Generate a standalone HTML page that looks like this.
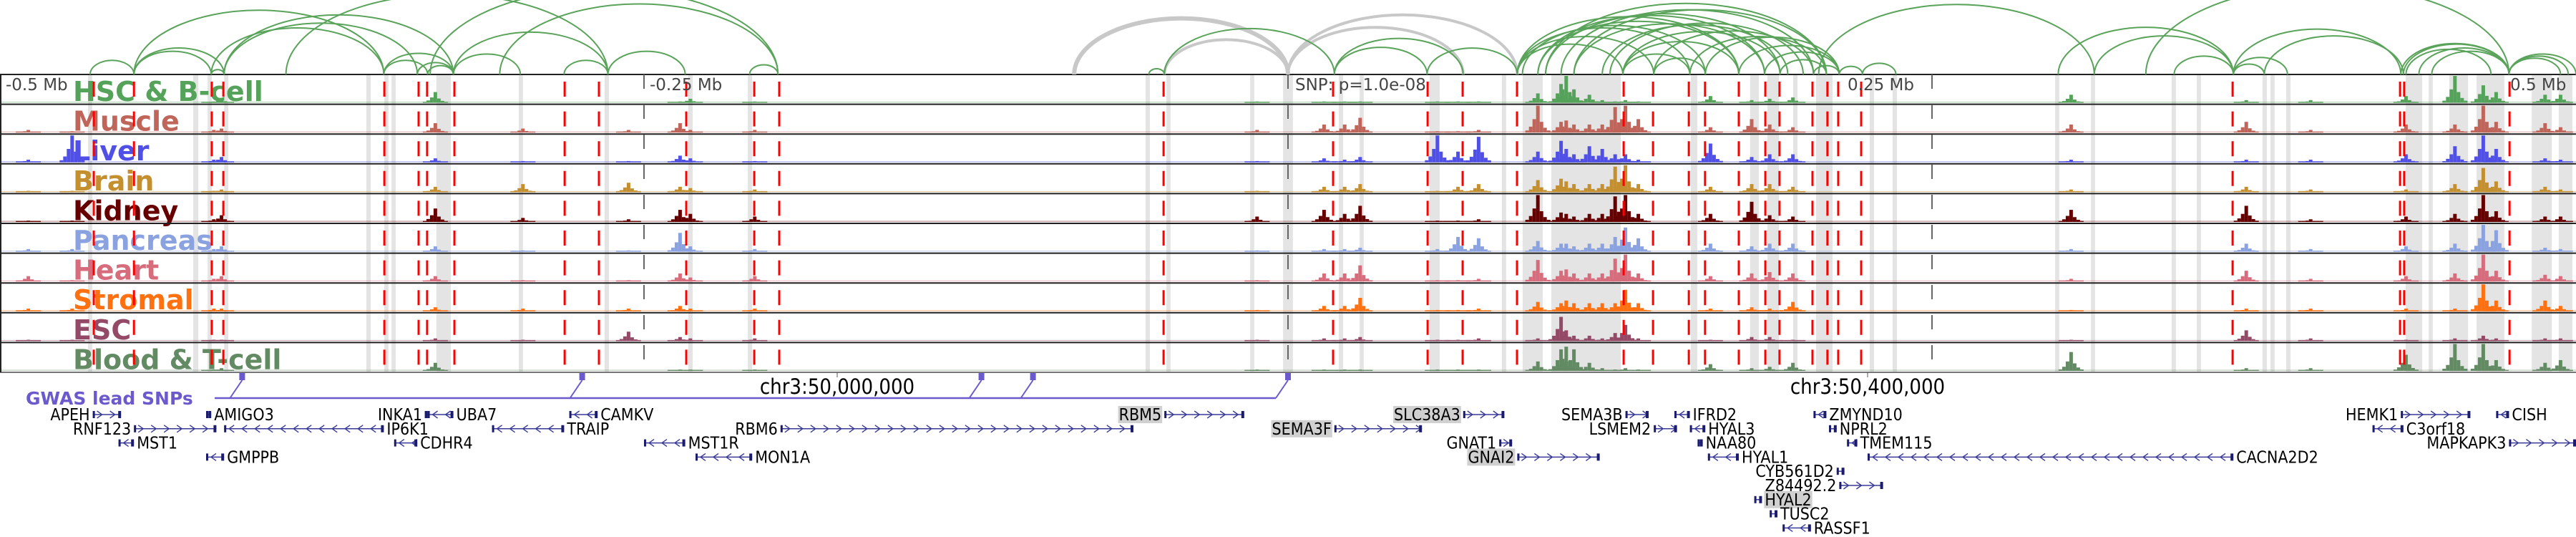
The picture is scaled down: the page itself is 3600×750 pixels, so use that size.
<!DOCTYPE html>
<html><head><meta charset="utf-8"><style>
html,body{margin:0;padding:0;background:#fff;}
svg{display:block;}
text{font-family:"DejaVu Sans","Liberation Sans",sans-serif;}
.g{font-family:"DejaVu Sans Condensed","Liberation Sans Narrow","Liberation Sans",sans-serif;}
</style></head><body>
<svg id="chart" width="3600" height="750" viewBox="0 0 3600 750" xmlns="http://www.w3.org/2000/svg"></svg>
<script>
// ---------- data (kb relative to lead SNP) ----------
const trackNames = ["HSC & B-cell","Muscle","Liver","Brain","Kidney","Pancreas","Heart","Stromal","ESC","Blood & T-cell"];
const trackColors = ["#55a35a","#c0655a","#5050e6","#c48f2e","#660000","#8aa2e0","#d66c7c","#ff7010","#944a66","#628a63"];
const peakPos = [-472,-489,-417,-414,-331,-297,-256,-236,-232,-207,-12,14,22,28,58,66,74,97,106,108,111,117,122,127,131,136,164,180,187,196,304,372,397,434,453,464,469,488,494];
const hscVals = [0,0,.05,.15,.4,0,0,.05,.15,.05,.05,.05,.05,.05,.05,.05,.05,.35,.7,1,.5,.3,.1,.05,.1,.05,.25,.1,.15,.2,.3,.1,.1,.25,1,.65,.4,.3,.3];
const muscleVals = [.05,.1,.1,.15,.35,.15,.1,.35,.1,.1,.1,.3,.3,.55,.05,.05,.1,1,.4,.45,.3,.3,.3,.95,1,.5,.2,.5,.3,.2,.3,.4,.1,.3,.3,1,.4,.35,.2];
const liverVals = [1,.1,.1,.2,.15,.05,.05,.25,.15,.05,.05,.15,.1,.2,1,.4,.95,.4,.8,.5,.3,.6,.5,.3,.3,.1,.7,.2,.3,.3,.1,.1,.1,.3,.6,1,.5,.15,.1];
const brainVals = [.05,.05,.05,.1,.2,.3,.35,.2,.15,.1,.05,.2,.2,.3,.05,.2,.3,.45,.5,.4,.3,.3,.3,.95,1,.3,.2,.3,.3,.2,.1,.2,.1,.1,.3,.9,.4,.2,.1];
const kidneyVals = [.05,.05,.1,.25,.5,.15,.1,.45,.3,.2,.2,.45,.3,.6,.05,.05,.1,1,.35,.3,.2,.3,.3,.95,1,.3,.3,.75,.25,.2,.45,.6,.1,.2,.3,1,.4,.2,.2];
const pancreasVals = [.1,.1,.1,.2,.2,.05,.05,.7,.2,.1,.05,.1,.1,.15,.1,.55,.5,.4,.3,.3,.2,.3,.3,.55,.9,.5,.3,.2,.3,.3,.1,.3,.1,.2,.3,1,.8,.15,.1];
const heartVals = [.05,.2,.1,.2,.2,.05,.05,.3,.15,.2,.05,.3,.3,.6,.05,.05,.1,.8,.4,.45,.3,.3,.3,.85,1,.3,.2,.3,.35,.3,.1,.4,.1,.2,.3,1,.4,.25,.2];
const stromalVals = [.1,.1,.1,.1,.15,.1,.1,.2,.1,.1,.05,.2,.2,.5,.05,.05,.1,.35,.3,.4,.3,.3,.3,.3,.8,.3,.1,.15,.1,.35,.05,.1,.1,.1,.1,1,.4,.4,.2];
const escVals = [.05,.05,.05,.05,.1,.05,.35,.15,.1,.1,.05,.1,.1,.15,.05,.05,.1,.1,.9,.4,.2,.2,.1,.3,.6,.1,.05,.15,.15,.05,.05,.4,.1,.05,.1,.2,.1,.1,.1];
const bloodVals = [0,0,.05,.1,.3,0,0,.05,.05,.05,.05,.05,.05,.05,.05,.05,.05,.35,.8,.9,.8,.3,.1,.05,.1,.05,.25,.1,.15,.3,.7,.1,.1,.6,1,1,.4,.3,.4];
const trackVals = [hscVals,muscleVals,liverVals,brainVals,kidneyVals,pancreasVals,heartVals,stromalVals,escVals,bloodVals];
const redLines = [-463.6,-448,-417.8,-413.3,-350.8,-337.5,-334.2,-323.6,-280.8,-267.5,-233.6,-207.2,-197.5,-48.3,17.5,54.2,67.8,88.9,130.3,141.7,155.6,161.9,175,185.3,190.8,203.6,209.4,213.6,222.5,366.7,431.7,433.3,474.2];
const grayStarts = [-465.8,-425,-419.4,-413,-357.8,-350.8,-348,-330.6,-298.6,-265.3,-232.8,-209.7,-55.3,-47.2,-14.7,-1.9,19.7,27.8,55,83,91.1,102.2,156.4,179.4,186.1,196.1,205,225.8,234.7,297.8,311.7,343,352.8,378.3,381.4,387.5,433.9,442.8,450.8,461.4,482.8,493.3];
const grayEnds   = [-464.2,-423,-417.8,-411.4,-356.1,-349.2,-346.4,-325,-297,-263.6,-231.1,-208,-53.6,-45.6,-13.1,1.9,21.4,29.4,58.9,84.7,98.9,129.2,158.9,182.8,190.6,197.8,211.4,227.5,236.4,299.4,313.3,344.7,354.4,380,383,389.2,440.3,444.4,458.1,472.2,490.6,498.6];
const arcStarts = [-465,-448,-448,-418,-448,-418,-413,-351,-351,-338,-334,-324,-413,-324,-281,-264,-333,-209,-54,-48,18,18,54,89,89,89,91,97,97,100,106,111,130,130,142,156,162,175,185,89,100,130,142,191,204,214,111,122,125,206,223,299,313,344,367,367,367,379,432,433,434,439,444,474,474,474,333,-389,-306];
const arcEnds   = [-448,-418,-413,-413,-351,-351,-338,-334,-324,-324,-324,-298,-324,-264,-264,-234,-198,-198,-48,18,54,68,89,130,142,156,162,175,185,191,204,209,175,191,204,209,214,214,214,175,209,156,162,209,214,223,185,194,200,313,236,367,367,367,379,388,432,433,474,474,467,474,474,500,497,494,474,-264,-198];
const grayArcStarts = [-83,-48,0,0];
const grayArcEnds = [0,0,68,89];
const geneNames = ["APEH","RNF123","MST1","AMIGO3","GMPPB","IP6K1","INKA1","UBA7","CDHR4","CAMKV","TRAIP","MST1R","MON1A","RBM6","RBM5","SEMA3F","SLC38A3","GNAT1","GNAI2","SEMA3B","LSMEM2","IFRD2","HYAL3","NAA80","HYAL1","CYB561D2","Z84492.2","HYAL2","TUSC2","RASSF1","ZMYND10","NPRL2","TMEM115","CACNA2D2","HEMK1","CISH","C3orf18","MAPKAPK3"];
const geneStarts = [-464,-448,-454,-420,-420,-413,-335,-334,-347,-279,-309,-250,-230,-197,-48,18,68,82,89,131,142,150,156,159,163,213,214,181,187,192,204,210,217,225,432,469,421,474];
const geneEnds   = [-453,-416,-448,-418,-413,-351,-334,-324,-338,-268,-281,-234,-208,-60,-17,52,84,87,121,140,151,156,162,161,175,216,231,184,190,203,209,213,221,367,459,474,433,500];
const geneRows   = [0,1,2,0,3,1,0,0,2,0,1,2,3,1,0,1,0,2,3,0,1,0,1,2,3,4,5,6,7,8,0,1,2,3,0,0,1,2];
const geneStrands= ["+","+","-","-","-","-","-","-","-","-","-","-","-","+","+","+","+","+","+","+","+","-","-","-","-","+","+","-","-","-","-","+","-","-","+","-","-","+"];
const geneLabelSide=["L","L","R","R","R","R","L","R","R","R","R","R","R","L","L","L","L","L","L","L","L","R","R","R","R","L","L","R","R","R","R","R","R","R","L","R","R","L"];
const geneHighlight=["RBM5","SEMA3F","SLC38A3","GNAI2","HYAL2"];
const snpPos = [-406,-274,-119,-99,0];
const axisTickKb = [-500,-250,250,500];
const axisTickLabels = ["-0.5 Mb","-0.25 Mb","0.25 Mb","0.5 Mb"];
const chrLabels = ["chr3:50,000,000","chr3:50,400,000"];
const chrLabelKb = [-175,225];

// ---------- scales ----------
const W=3600, TOP=104, TH=41.6, NT=10;
const x = kb => (kb+500)/1000*W;
const svg=document.getElementById('chart');
const NS='http://www.w3.org/2000/svg';
function mk(tag,attrs,parent){const e=document.createElementNS(NS,tag);for(const k in attrs)e.setAttribute(k,attrs[k]);(parent||svg).appendChild(e);return e;}

// gray highlight columns
const gcol=mk('g',{});


grayStarts.forEach((s,i)=>{
  const r=mk('rect',{x:x(s),y:TOP,width:Math.max(5,x(grayEnds[i])-x(s)),height:TH*NT,fill:'#e4e4e4'},gcol);
  
  
});

// tracks
trackNames.forEach((nm,t)=>{
  const g=mk('g',{});
  
  
  const top=TOP+t*TH, base=top+TH-2, maxH=TH-4, col=trackColors[t];
  mk('rect',{x:0,y:base-1.5,width:W,height:1.2,fill:col,opacity:0.45},g);
  trackVals[t].forEach((v,i)=>{
    if(v<=0)return;
    const cx=x(peakPos[i]);
    const parts=[[0,1],[-5,0.5],[5,0.4],[-10,0.22],[10,0.18],[-15,0.08],[15,0.08]];
    parts.forEach(p=>{
      const h=Math.max(1.5,v*maxH*p[1]);
      const b=mk('rect',{x:cx+p[0]-2.5,y:base-h,width:5,height:h,fill:col},g);
      
      
    });
  });
  const lb=mk('text',{x:102,y:top+37,'font-size':38,'font-weight':'bold',fill:col},g);
  lb.textContent=nm;
  
  
});

// track borders
for(let i=0;i<=NT;i++){
  const l=mk('line',{x1:0,x2:W,y1:TOP+i*TH,y2:TOP+i*TH,stroke:i==NT?'#777':'#222','stroke-width':2});
  
  
}
mk('line',{x1:1,x2:1,y1:TOP,y2:TOP+TH*NT,stroke:'#222','stroke-width':2});

// gray dashed axis lines
[-250,0,250].forEach(k=>{
  const l=mk('line',{x1:x(k),x2:x(k),y1:TOP,y2:TOP+TH*NT,stroke:'#666','stroke-width':2,'stroke-dasharray':'20 22'});
  
  
});
// red dashed lines
redLines.forEach(k=>{
  const l=mk('line',{x1:x(k),x2:x(k),y1:TOP,y2:TOP+TH*NT,stroke:'#ff0000','stroke-width':3,'stroke-dasharray':'21 20.6','stroke-dashoffset':-10});
  
  
});

// axis labels
axisTickKb.forEach((k,i)=>{
  let px=x(k)+8; if(k===500) px=x(k)-92; if(k===250) px=x(k)-118;
  const t=mk('text',{x:px,y:126,'font-size':23,fill:'#444'});
  t.textContent=axisTickLabels[i];
  
  
});
const snpT=mk('text',{x:x(0)+10,y:126,'font-size':23,fill:'#444'});
snpT.textContent='SNP: p=1.0e-08';



// arcs
function arc(s,e,color,w,name){
  const x1=x(s),x2=x(e),span=x2-x1; if(span<=0)return;
  const h=0.55*Math.pow(span,0.87);
  const p=mk('path',{d:`M${x1},${TOP} A${span/2},${h} 0 0 1 ${x2},${TOP}`,fill:'none',stroke:color,'stroke-width':w});
  
  
}
grayArcStarts.forEach((s,i)=>arc(s,grayArcEnds[i],'#c8c8c8',i==0?6:4,'gray-loop-arc'));
arcStarts.forEach((s,i)=>arc(s,arcEnds[i],'#5aa35a',2,'loop-arc'));

// chr labels
chrLabels.forEach((c,i)=>{
  const t=mk('text',{x:x(chrLabelKb[i]),y:550,'font-size':29,'text-anchor':'middle',fill:'#000',class:'g'});
  t.textContent=c;
  
  
  mk('line',{x1:x(chrLabelKb[i]),x2:x(chrLabelKb[i]),y1:520,y2:527,stroke:'#555','stroke-width':1});
});

// GWAS
const gw=mk('text',{x:36,y:565,'font-size':25,'font-weight':'bold',fill:'#6a5acd'});
gw.textContent='GWAS lead SNPs';


mk('line',{x1:300,x2:x(snpPos[snpPos.length-1])-17,y1:556,y2:556,stroke:'#6a5acd','stroke-width':2.5});
snpPos.forEach(k=>{
  const sx=x(k);
  const r=mk('rect',{x:sx-4,y:521,width:8,height:10,fill:'#6a5acd'});
  
  
  mk('line',{x1:sx,y1:531,x2:sx-17,y2:556,stroke:'#6a5acd','stroke-width':2});
});

// genes
geneNames.forEach((nm,i)=>{
  const g=mk('g',{});
  
  
  const x1=x(geneStarts[i]),x2=x(geneEnds[i]),y=579+geneRows[i]*19.8;
  mk('line',{x1:x1,x2:x2,y1:y,y2:y,stroke:'#3a3a9a','stroke-width':1.5},g);
  const dir=geneStrands[i]=='+'?1:-1;
  for(let cx=x1+10;cx<x2-4;cx+=18){
    mk('path',{d:`M${cx-4*dir},${y-5} L${cx+3*dir},${y} L${cx-4*dir},${y+5}`,fill:'none',stroke:'#3a3a9a','stroke-width':1.4},g);
  }
  mk('rect',{x:x1,y:y-5,width:3,height:10,fill:'#1c1c6e'},g);
  mk('rect',{x:x2-4,y:y-5,width:4,height:10,fill:'#1c1c6e'},g);
  const left=geneLabelSide[i]=='L';
  const tx=left?x1-4:x2+4;
  const t=mk('text',{x:tx,y:y+8,'font-size':23,'text-anchor':left?'end':'start',fill:'#000',class:'g'},g);
  t.textContent=nm;
  if(geneHighlight.includes(nm)){
    const bb=t.getBBox();
    const hr=mk('rect',{x:bb.x-1,y:y-12,width:bb.width+2,height:24,fill:'#d0d0d0'},g);
    g.insertBefore(hr,t);
  }
});
</script>
</body></html>
